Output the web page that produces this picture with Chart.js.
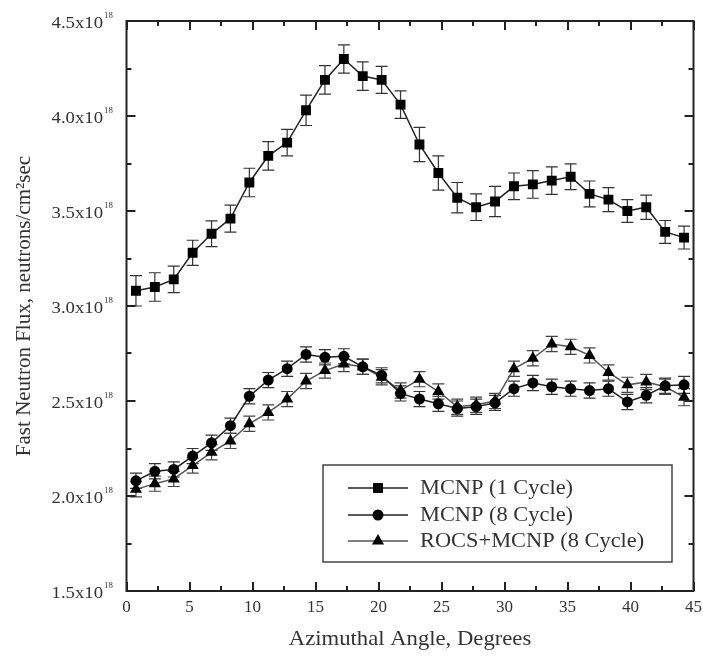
<!DOCTYPE html>
<html><head><meta charset="utf-8">
<script src="https://cdn.jsdelivr.net/npm/chart.js@4/dist/chart.umd.min.js"></script>
<style>html,body{margin:0;padding:0;background:#fff;}#wrap{width:703px;height:661px;}</style>
</head><body><div id="wrap"><canvas id="c" width="703" height="661"></canvas></div>
<script>
const angles = [0.75,2.25,3.75,5.25,6.75,8.25,9.75,11.25,12.75,14.25,15.75,17.25,18.75,20.25,21.75,23.25,24.75,26.25,27.75,29.25,30.75,32.25,33.75,35.25,36.75,38.25,39.75,41.25,42.75,44.25];
const mcnp1 = [3.08,3.10,3.14,3.28,3.38,3.46,3.65,3.79,3.86,4.03,4.19,4.30,4.21,4.19,4.06,3.85,3.70,3.57,3.52,3.55,3.63,3.64,3.66,3.68,3.59,3.56,3.50,3.52,3.39,3.36];
const mcnp1Err = [0.08,0.075,0.07,0.066,0.068,0.071,0.075,0.075,0.07,0.08,0.075,0.074,0.075,0.071,0.072,0.09,0.09,0.08,0.07,0.08,0.07,0.073,0.072,0.068,0.068,0.063,0.06,0.064,0.06,0.06];
const mcnp8 = [2.08,2.13,2.14,2.21,2.28,2.37,2.525,2.61,2.67,2.745,2.73,2.735,2.68,2.635,2.54,2.51,2.485,2.46,2.47,2.49,2.565,2.595,2.575,2.565,2.555,2.565,2.495,2.53,2.58,2.585];
const mcnp8Err = [0.04,0.04,0.04,0.04,0.04,0.04,0.04,0.04,0.04,0.04,0.04,0.04,0.04,0.04,0.04,0.04,0.04,0.04,0.04,0.04,0.04,0.04,0.04,0.04,0.04,0.04,0.04,0.04,0.04,0.045];
const rocs8 = [2.035,2.065,2.09,2.16,2.23,2.29,2.38,2.44,2.51,2.605,2.66,2.695,2.68,2.625,2.555,2.615,2.55,2.47,2.48,2.50,2.67,2.725,2.80,2.785,2.74,2.65,2.585,2.60,2.575,2.52];
const rocs8Err = [0.04,0.04,0.04,0.04,0.04,0.04,0.04,0.04,0.04,0.04,0.04,0.04,0.04,0.04,0.04,0.04,0.04,0.04,0.04,0.04,0.04,0.04,0.04,0.04,0.04,0.04,0.04,0.04,0.04,0.045];
const seriesLabels = ['MCNP (1 Cycle)','MCNP (8 Cycle)','ROCS+MCNP (8 Cycle)'];
const xTickValues = [0,5,10,15,20,25,30,35,40,45];
const yTickValues = [1.5,2.0,2.5,3.0,3.5,4.0,4.5];
const yTickExponent = '18';
const xTitle = 'Azimuthal Angle, Degrees';
const yTitle = 'Fast Neutron Flux, neutrons/cm²sec';

const SERIF = '"Liberation Serif","Times New Roman",serif';
const toPts = (ys) => angles.map((a,i)=>({x:a,y:ys[i]}));
const errs = [mcnp1Err, mcnp8Err, rocs8Err];

function shape(ctx, style, x, y, r) {
  ctx.beginPath();
  if (style === 'rect') { const s = r*Math.SQRT1_2; ctx.rect(x-s,y-s,2*s,2*s); }
  else if (style === 'circle') { ctx.arc(x,y,r,0,Math.PI*2); }
  else { ctx.moveTo(x, y - r); ctx.lineTo(x + r*0.866, y + r*0.5); ctx.lineTo(x - r*0.866, y + r*0.5); ctx.closePath(); }
  ctx.fill();
}
function stretchText(ctx, text, x, y, sx, align) {
  ctx.save();
  ctx.translate(x, y);
  ctx.scale(sx, 1);
  ctx.textAlign = align;
  ctx.fillText(text, 0, 0);
  ctx.restore();
}

const decor = {
  id: 'decor',
  beforeDatasetsDraw(chart) {
    const ctx = chart.ctx, xs = chart.scales.x, ys = chart.scales.y;
    ctx.save();
    chart.data.datasets.forEach((ds, di) => {
      ctx.strokeStyle = di === 2 ? '#444' : '#333';
      ctx.lineWidth = 1.2;
      ds.data.forEach((p, i) => {
        const e = errs[di][i];
        const px = xs.getPixelForValue(p.x);
        const t = ys.getPixelForValue(p.y + e), b = ys.getPixelForValue(p.y - e);
        ctx.beginPath();
        ctx.moveTo(px, t); ctx.lineTo(px, b);
        ctx.moveTo(px-6, t); ctx.lineTo(px+6, t);
        ctx.moveTo(px-6, b); ctx.lineTo(px+6, b);
        ctx.stroke();
      });
    });
    ctx.restore();
  },
  afterDraw(chart) {
    const ctx = chart.ctx, a = chart.chartArea, xs = chart.scales.x, ys = chart.scales.y;
    ctx.save();
    ctx.strokeStyle = '#222';
    ctx.lineWidth = 2;
    ctx.strokeRect(a.left, a.top, a.right - a.left, a.bottom - a.top);
    for (let v = 0; v <= 45.001; v += 2.5) {
      const px = Math.round(xs.getPixelForValue(v));
      const L = (Math.abs(v/5 - Math.round(v/5)) < 1e-6) ? 9 : 5;
      ctx.beginPath();
      ctx.moveTo(px, a.bottom); ctx.lineTo(px, a.bottom - L);
      ctx.moveTo(px, a.top); ctx.lineTo(px, a.top + L);
      ctx.stroke();
    }
    for (let v = 1.5; v <= 4.5001; v += 0.25) {
      const py = Math.round(ys.getPixelForValue(v));
      const L = (Math.abs(v/0.5 - Math.round(v/0.5)) < 1e-6) ? 9 : 5;
      ctx.beginPath();
      ctx.moveTo(a.left, py); ctx.lineTo(a.left + L, py);
      ctx.moveTo(a.right, py); ctx.lineTo(a.right - L, py);
      ctx.stroke();
    }
    // y tick labels with superscript exponent
    ctx.fillStyle = '#333';
    ctx.textBaseline = 'middle';
    yTickValues.forEach(v => {
      const py = ys.getPixelForValue(v);
      ctx.font = '17px ' + SERIF;
      stretchText(ctx, v.toFixed(1) + 'x10', 103, py + 3, 1.1, 'right');
      ctx.font = '8px ' + SERIF;
      stretchText(ctx, yTickExponent, 104, py - 5, 1.1, 'left');
    });
    // x title
    ctx.font = '21px ' + SERIF;
    ctx.textBaseline = 'alphabetic';
    stretchText(ctx, xTitle, (a.left + a.right) / 2, 645, 1.08, 'center');
    // legend
    const bx = 323, by = 465, bw = 349, bh = 97;
    ctx.fillStyle = '#fff';
    ctx.fillRect(bx, by, bw, bh);
    ctx.strokeStyle = '#444';
    ctx.lineWidth = 1.5;
    ctx.strokeRect(bx, by, bw, bh);
    ctx.font = '20px ' + SERIF;
    ctx.textBaseline = 'middle';
    const rows = [488, 515, 541];
    chart.data.datasets.forEach((ds, i) => {
      const ry = rows[i];
      ctx.strokeStyle = ds.borderColor;
      ctx.lineWidth = 1.5;
      ctx.beginPath(); ctx.moveTo(348, ry); ctx.lineTo(408, ry); ctx.stroke();
      ctx.fillStyle = '#000';
      shape(ctx, ds.pointStyle, 378, ry, ds.pointRadius);
      ctx.fillStyle = '#333';
      stretchText(ctx, ds.label, 420, ry + 1, 1.12, 'left');
    });
    ctx.restore();
  }
};

new Chart(document.getElementById('c'), {
  type: 'scatter',
  data: {
    datasets: [
      {label: seriesLabels[0], data: toPts(mcnp1), showLine: true, borderColor: '#222', borderWidth: 1.5, backgroundColor: '#000', pointStyle: 'rect', pointRadius: 7, pointBorderWidth: 0},
      {label: seriesLabels[1], data: toPts(mcnp8), showLine: true, borderColor: '#222', borderWidth: 1.5, backgroundColor: '#000', pointStyle: 'circle', pointRadius: 5.5, pointBorderWidth: 0},
      {label: seriesLabels[2], data: toPts(rocs8), showLine: true, borderColor: '#555', borderWidth: 1.5, backgroundColor: '#000', pointStyle: 'triangle', pointRadius: 7, pointBorderWidth: 0}
    ]
  },
  options: {
    responsive: false,
    animation: false,
    devicePixelRatio: 1,
    layout: {padding: {top: 21, right: 9.5, left: 0, bottom: 0}},
    plugins: {legend: {display: false}, tooltip: {enabled: false}},
    scales: {
      x: {
        type: 'linear', min: 0, max: 45,
        afterBuildTicks: (s) => { s.ticks = xTickValues.map(v => ({value: v})); },
        ticks: {font: {family: SERIF, size: 17}, color: '#333', padding: 6, maxRotation: 0, includeBounds: false},
        grid: {display: false, drawTicks: false}, border: {display: false},
        title: {display: false, text: xTitle},
        afterFit: (s) => { s.height = 70; s.paddingLeft = 0; s.paddingRight = 0; }
      },
      y: {
        type: 'linear', min: 1.5, max: 4.5,
        afterBuildTicks: (s) => { s.ticks = yTickValues.map(v => ({value: v})); },
        ticks: {display: false},
        grid: {display: false, drawTicks: false}, border: {display: false},
        title: {display: true, text: yTitle, font: {family: SERIF, size: 21}, color: '#333', padding: {top: 12, bottom: 0}},
        afterFit: (s) => { s.width = 126.5; s.paddingTop = 0; s.paddingBottom = 0; }
      }
    }
  },
  plugins: [decor]
});
</script></body></html>
